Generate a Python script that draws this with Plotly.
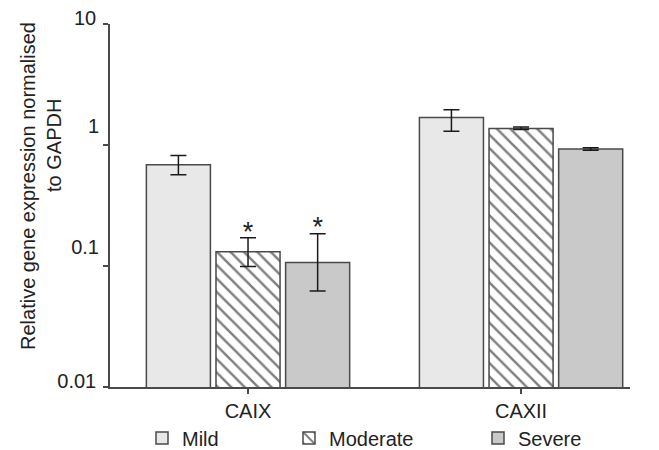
import plotly.graph_objects as go

# ---- data ----
categories = ["CAIX", "CAXII"]
groups = ["Mild", "Moderate", "Severe"]
mild_vals = [0.687, 1.69]
mild_err_plus = [0.13, 0.27]
mild_err_minus = [0.12, 0.39]
moderate_vals = [0.131, 1.37]
moderate_err_plus = [0.040, 0.04]
moderate_err_minus = [0.032, 0.03]
severe_vals = [0.107, 0.927]
severe_err_plus = [0.078, 0.02]
severe_err_minus = [0.045, 0.02]
significant = {"Mild": [False, False], "Moderate": [True, False], "Severe": [True, False]}
ytick_vals = [0.01, 0.1, 1, 10]
ytick_text = ["0.01", "0.1", "1", "10"]

FONT = "Liberation Sans, Arial, Helvetica, sans-serif"
TXT = "#222222"
EDGE = "#4a4a4a"

# page has an 8px body margin: figure origin sits at (8, 8) in the screenshot
OFF = 8
ML, MT = 110 - OFF, 24 - OFF
PW, PH = 520, 363
W, H = 659 - OFF, 450 - OFF

# asterisk sits a few pixels above the error-bar cap (log axis spans 3 decades over PH px)
STAR_GAP_PX = 4
star_factor = 10 ** (STAR_GAP_PX * 3 / PH)

series = [
    ("Mild", mild_vals, mild_err_plus, mild_err_minus, dict(color="#e8e8e8"), "legend"),
    ("Moderate", moderate_vals, moderate_err_plus, moderate_err_minus,
     dict(color="white", pattern=dict(shape="\\", fgcolor="#000000", bgcolor="white",
                                      size=9.5, solidity=0.26)), "legend2"),
    ("Severe", severe_vals, severe_err_plus, severe_err_minus, dict(color="#c8c9c8"), "legend3"),
]

fig = go.Figure()
for name, vals, ep, em, mk, lg in series:
    marker = dict(mk)
    marker["line"] = dict(color=EDGE, width=1.5)
    fig.add_trace(go.Bar(
        name=name, x=categories, y=vals, marker=marker, offsetgroup=name, legend=lg,
        error_y=dict(type="data", array=ep, arrayminus=em, visible=True,
                     color="#1a1a1a", thickness=1.5, width=8),
    ))

# asterisks above significant error bars
for name, vals, ep, em, mk, lg in series:
    sig = significant[name]
    ys = [(v + e) * star_factor if s else None for v, e, s in zip(vals, ep, sig)]
    fig.add_trace(go.Scatter(
        x=categories, y=ys, mode="text", text=["*" if s else "" for s in sig],
        textposition="middle center", textfont=dict(size=27, color=TXT, family=FONT),
        offsetgroup=name, showlegend=False, hoverinfo="skip", cliponaxis=False,
    ))

fig.update_layout(
    width=W, height=H,
    margin=dict(l=ML, r=W - ML - PW, t=MT, b=H - MT - PH, autoexpand=False),
    paper_bgcolor="white", plot_bgcolor="white",
    barmode="group", bargap=0.235, bargroupgap=0.08,
    scattermode="group", scattergap=0.235,
    font=dict(family=FONT, size=20, color=TXT),
    xaxis=dict(
        range=[-0.5055, 1.399], showgrid=False, zeroline=False,
        showline=True, linecolor=EDGE, linewidth=1.5,
        ticks="outside", ticklen=5, tickcolor=EDGE, tickwidth=1.5,
        tickfont=dict(size=20, color=TXT), fixedrange=True,
    ),
    yaxis=dict(
        type="log", range=[-2, 1], showgrid=False, zeroline=False,
        showline=True, linecolor=EDGE, linewidth=1.5,
        ticks="outside", ticklen=5, tickcolor=EDGE, tickwidth=1.5,
        tickvals=ytick_vals,
        ticktext=[t if t in ("0.01", "10") else "" for t in ytick_text],
        ticklabelshift=-6, ticklabelstandoff=3, ticklabeloverflow="allow",
        tickfont=dict(size=20, color=TXT),
    ),
    yaxis2=dict(
        type="log", range=[-2, 1], overlaying="y", side="left", anchor="x",
        showgrid=False, zeroline=False, showline=False, ticks="",
        tickvals=ytick_vals,
        ticktext=[t if t in ("0.1", "1") else "" for t in ytick_text],
        ticklabelshift=-19, ticklabelstandoff=10, ticklabeloverflow="allow",
        tickfont=dict(size=20, color=TXT),
    ),
    showlegend=True,
)

leg_common = dict(orientation="h", yanchor="middle", y=-(438 - 387) / PH, xanchor="left",
                  bgcolor="rgba(0,0,0,0)", font=dict(size=20, color=TXT),
                  traceorder="normal")
fig.update_layout(
    legend=dict(leg_common, x=(142 - 110) / PW),
    legend2=dict(leg_common, x=(289 - 110) / PW),
    legend3=dict(leg_common, x=(478 - 110) / PW),
)

# y-axis title (two lines, positioned as in the reference)
fig.add_annotation(text="Relative gene expression normalised", textangle=-90,
                   xref="paper", yref="paper", x=(28 - 110) / PW, y=(387 - 186) / PH,
                   xanchor="center", yanchor="middle", showarrow=False,
                   font=dict(size=20, color=TXT, family=FONT))
fig.add_annotation(text="to GAPDH", textangle=-90,
                   xref="paper", yref="paper", x=(54 - 110) / PW, y=(387 - 146) / PH,
                   xanchor="center", yanchor="middle", showarrow=False,
                   font=dict(size=20, color=TXT, family=FONT))

# dummy trace on yaxis2 so it renders
fig.add_trace(go.Scatter(x=categories, y=[None, None], yaxis="y2", showlegend=False,
                         hoverinfo="skip", mode="markers"))

fig.write_html("out.html")
